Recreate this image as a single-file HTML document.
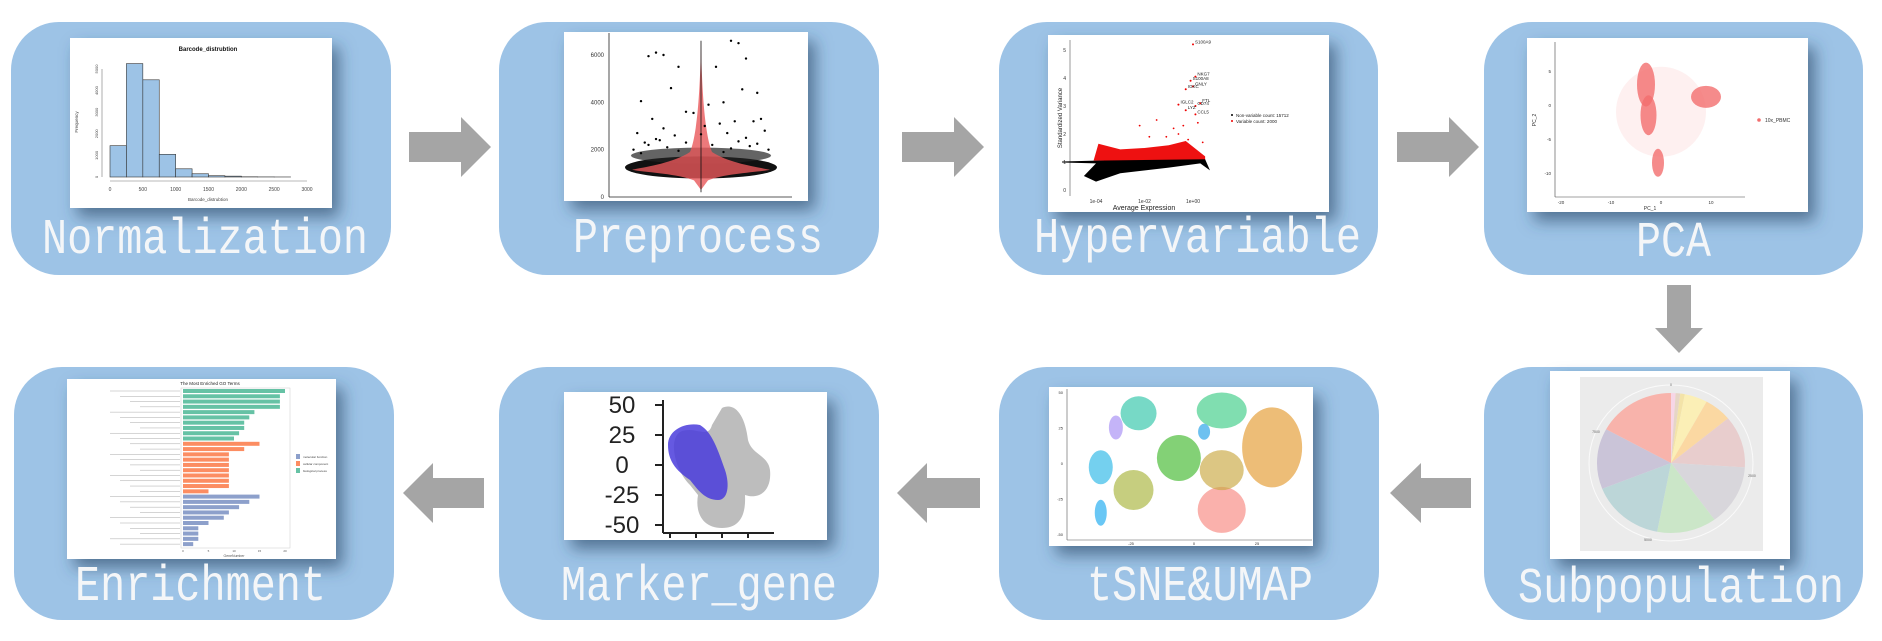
<!DOCTYPE html>
<html><head><meta charset="utf-8"><style>
html,body{margin:0;padding:0;background:#fff;}
svg{display:block;font-family:"Liberation Sans",sans-serif;}
.lbl{font-family:"Liberation Mono",monospace;font-size:50px;fill:#f4f6f8;}
</style></head><body>
<svg id="s" width="1882" height="641" viewBox="0 0 1882 641" xmlns="http://www.w3.org/2000/svg">
<defs>
<filter id="sh" x="-20%" y="-20%" width="150%" height="150%"><feDropShadow dx="7" dy="9" stdDeviation="8" flood-color="#2c4a68" flood-opacity="0.65"/></filter>
<clipPath id="tc"><rect x="1049" y="387" width="264" height="159"/></clipPath>
<clipPath id="pc"><rect x="1527" y="38" width="281" height="174"/></clipPath>
<clipPath id="hc"><rect x="1048" y="35" width="281" height="177"/></clipPath>
</defs>
<g id="boxes"></g>
<g id="arrows"></g>
<g id="panels"></g>
<g id="labels"></g>
</svg>
<script>
const NS="http://www.w3.org/2000/svg";
function E(p,t,a){const e=document.createElementNS(NS,t);for(const k in a)e.setAttribute(k,a[k]);p.appendChild(e);return e;}
const boxesG=document.getElementById('boxes'),arrG=document.getElementById('arrows'),panG=document.getElementById('panels'),lblG=document.getElementById('labels');

const stepNames=["Normalization","Preprocess","Hypervariable","PCA","Subpopulation","tSNE&UMAP","Marker_gene","Enrichment"];
const boxRects=[[11,22,380,253],[499,22,380,253],[999,22,379,253],[1484,22,379,253],[1484,367,379,253],[999,367,380,253],[499,367,380,253],[14,367,380,253]];
const labelPos=[[42,253,326],[573,252,250],[1034,252,327],[1636,256,75],[1518,602,326],[1087,600,226],[561,600,276],[75,600,251]];
stepNames.forEach((n,i)=>{
  const b=boxRects[i];
  const r=E(boxesG,'rect',{x:b[0],y:b[1],width:b[2],height:b[3],rx:48,ry:48,fill:'#9dc3e6'});
  
  
  const l=labelPos[i];
  const t=E(lblG,'text',{x:l[0],y:l[1],class:'lbl',textLength:l[2],lengthAdjust:'spacingAndGlyphs'});
  t.textContent=n;
  
  
});
function arrowR(x0,x1,hb,cy){return `${x0},${cy-15} ${hb},${cy-15} ${hb},${cy-30} ${x1},${cy} ${hb},${cy+30} ${hb},${cy+15} ${x0},${cy+15}`;}
function arrowL(x0,x1,hb,cy){return `${x1},${cy-15} ${hb},${cy-15} ${hb},${cy-30} ${x0},${cy} ${hb},${cy+30} ${hb},${cy+15} ${x1},${cy+15}`;}
const arrowPolys=[arrowR(409,491,461,147),arrowR(902,984,954,147),arrowR(1397,1479,1449,147),
  arrowL(1390,1471,1421,493),arrowL(897,980,927,493),arrowL(403,484,433,493),
  "1667,285 1691,285 1691,328 1703,328 1679,353 1655,328 1667,328"];
const arrowNames=['arrow-1','arrow-2','arrow-3','arrow-5','arrow-6','arrow-7','arrow-down'];
arrowPolys.forEach((p,i)=>{const a=E(arrG,'polygon',{points:p,fill:'#a5a5a5'});
  
  });

function panel(name,x,y,w,h){const g=E(panG,'g',{});
  
  
  E(g,'rect',{x:x,y:y,width:w,height:h,fill:'#fff',filter:'url(#sh)'});return g;}
function txt(g,x,y,s,size,anchor,fill,extra){const t=E(g,'text',Object.assign({x:x,y:y,'font-size':size,'text-anchor':anchor||'start',fill:fill||'#333'},extra||{}));t.textContent=s;return t;}

// ---------- 1 histogram ----------
const histBins=[0,250,500,750,1000,1250,1500,1750,2000,2250,2500,2750];
const histVals=[1450,5250,4500,1050,380,150,60,40,10,5,2,0];
const histXTicks=[0,500,1000,1500,2000,2500,3000];
const histYTicks=[0,1000,2000,3000,4000,5000];
{
 const g=panel('histogram-panel',70,38,262,170);
 const X=v=>110+v*(197/3000),Y=v=>177-v*(108/5000);
 txt(g,208,51,'Barcode_distrubtion',6,'middle','#111',{'font-weight':'bold'});
 histBins.forEach((b,i)=>{if(histVals[i]>0){const r=E(g,'rect',{x:X(b),y:Y(histVals[i]),width:X(250)-X(0),height:Y(0)-Y(histVals[i]),fill:'#9dc3e6',stroke:'#333','stroke-width':0.6});
  
  }});
 E(g,'line',{x1:X(0),x2:X(3000),y1:181,y2:181,stroke:'#777','stroke-width':0.6});
 histXTicks.forEach(v=>txt(g,X(v),191,String(v),5,'middle','#444'));
 E(g,'line',{x1:102,x2:102,y1:Y(0),y2:Y(5000),stroke:'#777','stroke-width':0.6});
 histYTicks.forEach(v=>txt(g,98,Y(v),String(v),4,'middle','#444',{transform:`rotate(-90 98 ${Y(v)})`}));
 txt(g,208,201,'Barcode_distrubtion',4.5,'middle','#444');
 txt(g,78,122,'Frequency',4.5,'middle','#444',{transform:'rotate(-90 78 122)'});
}
// ---------- 2 violin ----------
const violinYTicks=[0,2000,4000,6000];
const violinPtsX=[-0.7,-0.6,-0.5,-0.3,0.2,0.4,0.5,0.6,0.75,-0.8,-0.4,-0.2,0.3,0.55,0.8,-0.65,-0.1,0.1,0.45,0.7,-0.85,-0.5,0.25,0.6,-0.35,0.05,0.35,-0.75,0.85,-0.55,-0.9,-0.7,-0.45,-0.2,0.15,0.4,0.65,0.9,-0.6,0.5,-0.3,0.75,0.0,-0.8,0.3];
const violinPtsY=[5950,6100,6000,5500,5500,6600,6500,5850,4400,4050,4600,3600,4000,4550,3300,3300,3550,3900,3200,3200,2700,2900,3100,2500,2600,3000,2700,2300,2800,2400,2000,2200,2100,2300,2200,2050,2150,2000,2450,2350,1950,2250,2650,1850,1900];
{
 const g=panel('violin-panel',564,32,244,169);
 const Y=v=>197-v*(142/6000),X=f=>701+f*75;
 E(g,'line',{x1:609,x2:609,y1:33,y2:197,stroke:'#222','stroke-width':0.8});
 E(g,'line',{x1:609,x2:792,y1:197,y2:197,stroke:'#222','stroke-width':0.8});
 violinYTicks.forEach(v=>txt(g,604,Y(v)+2,String(v),6,'end','#333'));
 E(g,'ellipse',{cx:701,cy:Y(1250),rx:76,ry:11,fill:'#111'});
 E(g,'ellipse',{cx:701,cy:Y(1750),rx:70,ry:8,fill:'#222',opacity:0.7});
 E(g,'path',{d:`M701,${Y(6600)} C702,${Y(4000)} 706,${Y(2500)} 712,${Y(1900)} C730,${Y(1400)} 760,${Y(1250)} 770,${Y(1150)} C760,${Y(1050)} 725,${Y(1000)} 708,${Y(700)} L701,${Y(300)} L694,${Y(700)} C677,${Y(1000)} 642,${Y(1050)} 632,${Y(1150)} C642,${Y(1250)} 672,${Y(1400)} 690,${Y(1900)} C696,${Y(2500)} 700,${Y(4000)} 701,${Y(6600)}Z`,fill:'#e8585a',opacity:0.8});
 E(g,'line',{x1:701,x2:701,y1:Y(6600),y2:Y(200),stroke:'#111','stroke-width':0.8});
 violinPtsX.forEach((f,i)=>{const c=E(g,'circle',{cx:X(f),cy:Y(violinPtsY[i]),r:1.2,fill:'#000'});
  
  });
}
// ---------- 3 hypervariable ----------
const hvGenes=["S100A9","NKG7","S100A8","GNLY","IGKC","IGLC2","FTL","CD74","LYZ","CCL5"];
const hvLogExpr=[0,0.1,-0.1,0,-0.3,-0.6,0.3,0.1,-0.3,0.1];
const hvVar=[5.2,4.05,3.9,3.7,3.6,3.05,3.1,3.0,2.85,2.7];
const hvYTicks=[0,1,2,3,4,5];
const hvXTicks=["1e-04","1e-02","1e+00"];
const hvOutX=[-2.2,-1.5,-1.1,-0.6,-0.4,-0.2,0.2,0.4,-0.8,-1.8];
const hvOutY=[2.3,2.5,1.9,2.0,2.3,1.8,2.4,1.7,2.2,1.9];
{
 const g=panel('hypervariable-panel',1048,35,281,177);
 const c=E(g,'g',{'clip-path':'url(#hc)'});
 const Y=v=>190-28*v,X=l=>1193+l*24.25;
 E(c,'line',{x1:1070,x2:1070,y1:40,y2:196,stroke:'#555','stroke-width':0.6});
 hvYTicks.forEach(v=>txt(c,1066,Y(v)+2,String(v),5,'end','#333'));
 hvXTicks.forEach((s,i)=>txt(c,X(-4+2*i),203,s,5,'middle','#333'));
 txt(c,1144,210,'Average Expression',7,'middle','#222');
 txt(c,1062,118,'Standardized Variance',6,'middle','#222',{transform:'rotate(-90 1062 118)'});
 E(c,'path',{d:`M${X(-4.1)},${Y(1.05)} L${X(-3.9)},${Y(1.65)} L${X(-3)},${Y(1.45)} L${X(-2)},${Y(1.5)} L${X(-1)},${Y(1.6)} L${X(-0.3)},${Y(1.75)} L${X(0.5)},${Y(1.2)} L${X(0.5)},${Y(1.05)} Z`,fill:'#ee1111'});
 hvOutX.forEach((v,i)=>E(c,'circle',{cx:X(v),cy:Y(hvOutY[i]),r:0.9,fill:'#e00'}));
 E(c,'path',{d:`M${X(-5.4)},${Y(1.02)} L${X(-4)},${Y(1.05)} L${X(0.5)},${Y(1.1)} L${X(0.7)},${Y(0.7)} L${X(0.3)},${Y(0.95)} L${X(-1)},${Y(0.8)} L${X(-3)},${Y(0.6)} L${X(-4)},${Y(0.3)} L${X(-4.5)},${Y(0.5)} L${X(-4)},${Y(0.95)} L${X(-5.4)},${Y(0.98)} Z`,fill:'#000'});
 hvGenes.forEach((n,i)=>{const p=E(c,'circle',{cx:X(hvLogExpr[i]),cy:Y(hvVar[i]),r:1,fill:'#e00'});
  
  
  txt(c,X(hvLogExpr[i])+2,Y(hvVar[i])-1,n,4.5,'start','#222');});
 E(c,'circle',{cx:1232,cy:115,r:1,fill:'#000'});txt(c,1236,117,'Non-variable count: 15712',4.5,'start','#222');
 E(c,'circle',{cx:1232,cy:121,r:1,fill:'#e00'});txt(c,1236,123,'Variable count: 2000',4.5,'start','#222');
}
// ---------- 4 PCA ----------
const pcaClusterX=[-3,-2.5,9,-0.6];
const pcaClusterY=[3,-1.5,1.2,-8.5];
const pcaXTicks=[-20,-10,0,10];
const pcaYTicks=[5,0,-5,-10];
{
 const g=panel('pca-panel',1527,38,281,174);
 const c=E(g,'g',{'clip-path':'url(#pc)'});
 const X=v=>1661+v*5,Y=v=>105-v*6.8;
 E(c,'line',{x1:1555,x2:1555,y1:42,y2:197,stroke:'#444','stroke-width':0.6});
 E(c,'line',{x1:1555,x2:1745,y1:197,y2:197,stroke:'#444','stroke-width':0.6});
 pcaXTicks.forEach(v=>txt(c,X(v),204,String(v),4.5,'middle','#333'));
 pcaYTicks.forEach(v=>txt(c,1551,Y(v)+2,String(v),4.5,'end','#333'));
 txt(c,1650,210,'PC_1',5,'middle','#333');txt(c,1536,120,'PC_2',5,'middle','#333',{transform:'rotate(-90 1536 120)'});
 E(c,'ellipse',{cx:X(0),cy:Y(-1),rx:45,ry:45,fill:'#f26e6e',opacity:0.1});
 const rx=[9,8,15,6],ry=[22,20,11,14];
 pcaClusterX.forEach((v,i)=>{const e=E(c,'ellipse',{cx:X(v),cy:Y(pcaClusterY[i]),rx:rx[i],ry:ry[i],fill:'#f26e6e',opacity:0.8});
  
  });
 E(c,'circle',{cx:1759,cy:120,r:1.8,fill:'#f26e6e'});txt(c,1765,122,'10x_PBMC',5,'start','#333');
}
// ---------- 5 pie ----------
const pieVals=[0.01,0.01,0.01,0.05,0.06,0.12,0.14,0.13,0.16,0.14,0.17];
const pieColors=['#f7d6e6','#e6d5c6','#f3e3a8','#fbefb6','#fbd8a2','#e8cdcd','#d8d6db','#cbe6c8','#bcd6d8','#cac4d8','#f8b3ab'];
{
 const g=panel('pie-panel',1550,371,240,188);
 E(g,'rect',{x:1580,y:377,width:183,height:174,fill:'#ebebeb'});
 const cx=1671,cy=463,rx=74,ry=70;
 E(g,'ellipse',{cx:cx,cy:cy,rx:rx+8,ry:ry+8,fill:'none',stroke:'#fafafa','stroke-width':1});
 let a=0;
 pieVals.forEach((v,i)=>{const a0=a*2*Math.PI,a1=(a+v)*2*Math.PI;a+=v;
  const x0=cx+rx*Math.sin(a0),y0=cy-ry*Math.cos(a0),x1=cx+rx*Math.sin(a1),y1=cy-ry*Math.cos(a1);
  const p=E(g,'path',{d:`M${cx},${cy} L${x0},${y0} A${rx},${ry} 0 ${v>0.5?1:0} 1 ${x1},${y1}Z`,fill:pieColors[i]});
  
  });
 txt(g,1671,386,'0',3.5,'middle','#666');txt(g,1752,477,'2500',3.5,'middle','#666');
 txt(g,1648,541,'5000',3.5,'middle','#666');txt(g,1596,433,'7500',3.5,'middle','#666');
}
// ---------- 6 tSNE ----------
const tsneX=[-22,-31,-37,-24,-6,11,31,11,-37,11,4];
const tsneY=[35,25,-3,-19,3.5,37,11,-33,-35,-5,22];
const tsneColors=['#2ec4a8','#a58cf5','#2ab7e6','#a8b33a','#41b82c','#3ccc86','#e39a2e','#f7877f','#19a9f0','#c9a840','#1fa0e8'];
const tsneR=[[18,17],[7,12],[12,17],[20,20],[22,23],[25,18],[30,40],[24,23],[6,13],[22,20],[6,8]];
const tsneTicks=[-25,0,25];
{
 const g=panel('tsne-panel',1049,387,264,159);
 const c=E(g,'g',{'clip-path':'url(#tc)'});
 const X=v=>1194+v*2.52,Y=v=>463-v*1.42;
 E(c,'line',{x1:1067,x2:1067,y1:389,y2:540,stroke:'#555','stroke-width':0.6});
 E(c,'line',{x1:1067,x2:1312,y1:540,y2:540,stroke:'#555','stroke-width':0.6});
 [50,25,0,-25,-50].forEach(v=>txt(c,1063,Y(v)+2,String(v),4,'end','#333'));
 tsneTicks.forEach(v=>txt(c,X(v),545,String(v),4,'middle','#333'));
 tsneX.forEach((v,i)=>{const e=E(c,'ellipse',{cx:X(v),cy:Y(tsneY[i]),rx:tsneR[i][0],ry:tsneR[i][1],fill:tsneColors[i],opacity:0.65});
  
  });
}
// ---------- 7 marker ----------
const markerYTicks=[50,25,0,-25,-50];
{
 const g=panel('marker-panel',564,392,263,148);
 const Y=v=>465-v*1.2;
 E(g,'line',{x1:663,x2:663,y1:400,y2:533,stroke:'#222','stroke-width':2});
 E(g,'line',{x1:663,x2:774,y1:533,y2:533,stroke:'#222','stroke-width':2});
 [0,1,2,3].forEach(i=>E(g,'line',{x1:670+i*26,x2:670+i*26,y1:533,y2:538,stroke:'#222','stroke-width':2}));
 markerYTicks.forEach(v=>{txt(g,622,Y(v)+8,String(v),24,'middle','#222');E(g,'line',{x1:655,x2:663,y1:Y(v),y2:Y(v),stroke:'#222','stroke-width':2});});
 E(g,'path',{d:'M722,408 C735,402 745,415 748,440 C752,455 768,455 770,470 C772,490 760,500 745,495 C746,515 740,528 722,528 C702,528 695,512 698,495 L690,485 C675,470 668,440 680,432 C695,425 708,440 712,425 Z',fill:'#bdbdbd'});
 const m=E(g,'path',{d:'M668,445 C668,430 685,422 700,425 C712,432 718,450 725,470 C730,485 728,500 718,500 C705,500 698,490 690,480 C675,470 668,460 668,445Z',fill:'#4a3cdc',opacity:0.85});
 
 
}
// ---------- 8 enrichment ----------
const goVals=[20,19,19,19,14,13,12,12,11,10,15,12,9,9,9,9,9,9,9,5,15,13,11,9,8,5,3,3,3,2];
const goType=[2,2,2,2,2,2,2,2,2,2,1,1,1,1,1,1,1,1,1,1,0,0,0,0,0,0,0,0,0,0];
const goColors=['#8da0cb','#fc8d62','#66c2a5'];
const goXTicks=[0,5,10,15,20];
{
 const g=panel('enrichment-panel',67,379,269,180);
 const X=v=>183+v*5.1,Y=i=>391+i*5.28;
 txt(g,210,385,'The Most Enriched GO Terms',4.5,'middle','#222');
 E(g,'rect',{x:181,y:388,width:109,height:160,fill:'none',stroke:'#ccc','stroke-width':0.5});
 goVals.forEach((v,i)=>{const r=E(g,'rect',{x:X(0),y:Y(i)-2,width:X(v)-X(0),height:4,fill:goColors[goType[i]]});
  
  
  E(g,'line',{x1:110+(i%4)*10,x2:180,y1:Y(i),y2:Y(i),stroke:'#aaa','stroke-width':0.5});});
 goXTicks.forEach(v=>txt(g,X(v),552,String(v),3,'middle','#555'));
 txt(g,234,557,'GeneNumber',3.5,'middle','#555');
 ['molecular function','cellular component','biological process'].forEach((s,i)=>{E(g,'rect',{x:296,y:454+i*7,width:4,height:5,fill:goColors[i]});txt(g,303,458+i*7,s,3,'start','#444');});
}
</script>
</body></html>
